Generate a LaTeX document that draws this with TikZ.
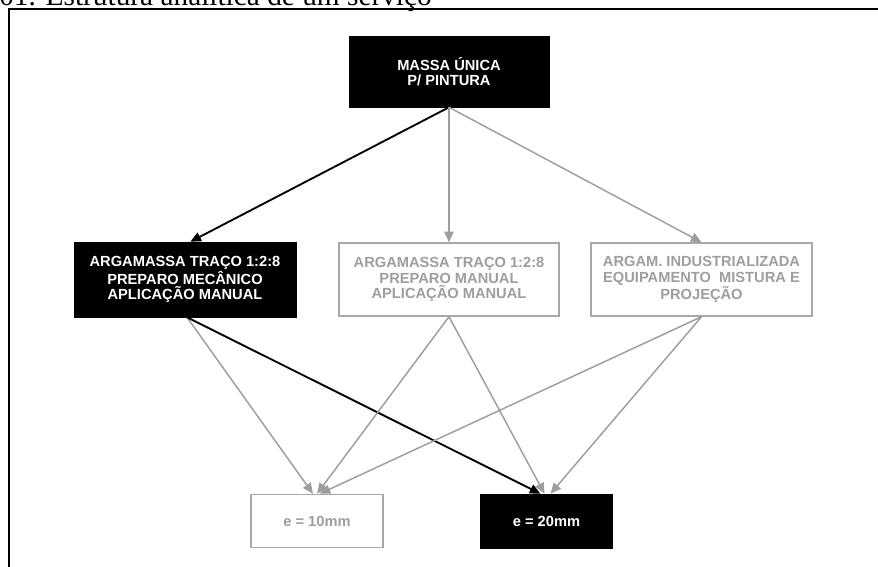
\documentclass[tikz,border=0pt]{standalone}
\usepackage{fontspec}
\setmainfont{Liberation Serif}
\newfontfamily\boxfont{Liberation Sans}
\usetikzlibrary{arrows.meta}
\definecolor{lightgrey}{RGB}{158,158,158}
\definecolor{edgegrey}{RGB}{168,168,168}

\begin{document}
\begin{tikzpicture}[x=0.75pt,y=-0.75pt,
    boxtext/.style={align=center,inner sep=0pt,font=\boxfont\bfseries\fontsize{11}{11.6}\selectfont},
    darkbox/.style={boxtext,fill=black,draw=black,text=white},
    lightbox/.style={boxtext,fill=white,draw=edgegrey,line width=1.1pt,text=lightgrey},
    darkarrow/.style={-{Triangle[length=8pt,width=7pt]},line width=1.4pt},
    lightarrow/.style={-{Triangle[length=8pt,width=7pt]},draw=lightgrey,fill=lightgrey,line width=1.1pt}]
    \useasboundingbox (0,0) rectangle (878,567);

    % Caption and frame
    \node[anchor=base west,inner sep=0pt,font=\fontsize{22}{24}\selectfont] (caption) at (-1,6) {01. Estrutura analítica de um serviço};
    \draw[line width=1.5pt] (8.5,620) -- (8.5,8.7) -- (920,8.7);

    % Top level
    \node[darkbox,minimum width=150pt,minimum height=53.25pt] (massa) at (449,71.5) {MASSA ÚNICA\\P/ PINTURA};

    % Second level
    \node[darkbox,minimum width=166.5pt,minimum height=56.25pt] (mecanico) at (185,279.5) {ARGAMASSA TRAÇO 1:2:8\\PREPARO MECÂNICO\\APLICAÇÃO MANUAL};
    \node[lightbox,minimum width=165pt,minimum height=54.75pt] (manual) at (449,279.5) {ARGAMASSA TRAÇO 1:2:8\\PREPARO MANUAL\\APLICAÇÃO MANUAL};
    \node[lightbox,minimum width=165.75pt,minimum height=54.75pt] (industrial) at (701.5,279.5) {ARGAM. INDUSTRIALIZADA\\EQUIPAMENTO~ MISTURA E\\PROJEÇÃO};

    % Third level
    \node[lightbox,minimum width=99pt,minimum height=39.75pt] (dez) at (317,521) {e = 10mm};
    \node[darkbox,minimum width=99pt,minimum height=40.5pt] (vinte) at (546.5,521) {e = 20mm};

    % Connectors
    \draw[darkarrow] (massa.south) -- ([xshift=4pt]mecanico.north);
    \draw[lightarrow] (massa.south) -- (manual.north);
    \draw[lightarrow] (massa.south) -- (industrial.north);

    \draw[lightarrow] ([xshift=1.5pt]mecanico.south) -- ([xshift=-3pt]dez.north);
    \draw[darkarrow] ([xshift=1.5pt]mecanico.south) -- ([xshift=-4.5pt]vinte.north);
    \draw[lightarrow] (manual.south) -- ([xshift=0pt]dez.north);
    \draw[lightarrow] (manual.south) -- ([xshift=-1.5pt]vinte.north);
    \draw[lightarrow] (industrial.south) -- ([xshift=2pt]dez.north);
    \draw[lightarrow] (industrial.south) -- ([xshift=3pt]vinte.north);
\end{tikzpicture}
\end{document}
